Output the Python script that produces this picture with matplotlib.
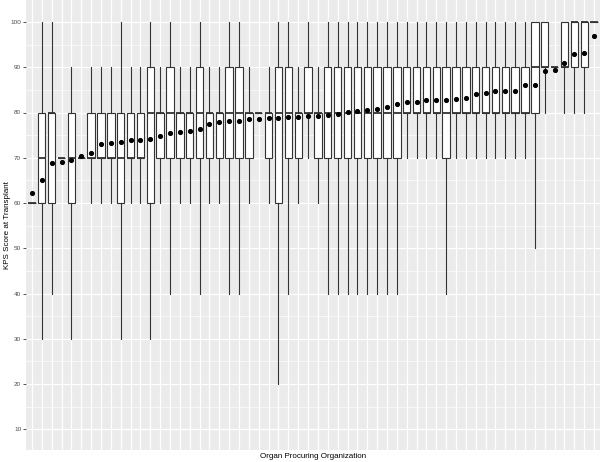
import matplotlib
matplotlib.use('Agg')
import matplotlib.pyplot as plt
import numpy as np
from matplotlib.ticker import FixedLocator

# one entry per OPO, ordered by mean KPS
whis_lo = [60, 30, 40, 70, 30, 70, 60, 60, 60, 30,
           60, 60, 30, 60, 40, 60, 60, 40, 60, 60,
           40, 40, 60, 80, 60, 20, 40, 60, 70, 60,
           40, 40, 40, 40, 40, 40, 40, 40, 70, 70,
           70, 70, 40, 70, 70, 70, 70, 70, 70, 70,
           70, 50, 80, 90, 80, 80, 80, 100]
q1 = [60, 60, 60, 70, 60, 70, 70, 70, 70, 60,
      70, 70, 60, 70, 70, 70, 70, 70, 70, 70,
      70, 70, 70, 80, 70, 60, 70, 70, 80, 70,
      70, 70, 70, 70, 70, 70, 70, 70, 80, 80,
      80, 80, 70, 80, 80, 80, 80, 80, 80, 80,
      80, 80, 90, 90, 90, 90, 90, 100]
med = [60, 70, 80, 70, 70, 70, 70, 70, 70, 70,
       70, 70, 80, 80, 80, 80, 80, 80, 80, 80,
       80, 80, 80, 80, 80, 80, 80, 80, 80, 80,
       80, 80, 80, 80, 80, 80, 80, 80, 80, 80,
       80, 80, 80, 80, 80, 80, 80, 80, 80, 80,
       80, 90, 90, 90, 90, 100, 100, 100]
q3 = [60, 80, 80, 70, 80, 70, 80, 80, 80, 80,
      80, 80, 90, 80, 90, 80, 80, 90, 80, 80,
      90, 90, 80, 80, 80, 90, 90, 80, 90, 80,
      90, 90, 90, 90, 90, 90, 90, 90, 90, 90,
      90, 90, 90, 90, 90, 90, 90, 90, 90, 90,
      90, 100, 100, 90, 100, 100, 100, 100]
whis_hi = [60, 100, 100, 70, 90, 70, 90, 90, 90, 100,
           90, 90, 100, 90, 100, 90, 90, 100, 90, 90,
           100, 100, 90, 80, 90, 100, 100, 90, 100, 90,
           100, 100, 100, 100, 100, 100, 100, 100, 100, 100,
           100, 100, 100, 100, 100, 100, 100, 100, 100, 100,
           100, 100, 100, 90, 100, 100, 100, 100]
means = [62.3, 65.1, 68.9, 69.1, 69.4, 70.4, 71.1, 73.0, 73.2, 73.5,
         74.0, 74.0, 74.2, 74.8, 75.4, 75.7, 76.0, 76.4, 77.4, 77.8,
         78.2, 78.2, 78.5, 78.6, 78.8, 78.8, 78.9, 79.0, 79.2, 79.2,
         79.4, 79.6, 80.1, 80.3, 80.5, 80.7, 81.3, 81.9, 82.4, 82.4,
         82.7, 82.7, 82.8, 83.0, 83.1, 84.1, 84.3, 84.7, 84.8, 84.8,
         86.0, 86.1, 89.1, 89.3, 90.9, 93.0, 93.1, 97.0]

yticks = list(range(10, 101, 10))

plt.rcParams['font.family'] = ['Liberation Sans', 'DejaVu Sans']

fig = plt.figure(figsize=(6, 4.62), dpi=100)
ax = fig.add_axes([26 / 600, 12 / 462, 574 / 600, 450 / 462])
ax.set_facecolor('#EBEBEB')

pos = np.arange(1, len(means) + 1)
stats = [dict(whislo=a, q1=b, med=c, q3=d, whishi=e, fliers=[])
         for a, b, c, d, e in zip(whis_lo, q1, med, q3, whis_hi)]

ax.bxp(stats, positions=pos, widths=0.75,
       patch_artist=True,
       showcaps=False,
       showfliers=False,
       boxprops=dict(facecolor='white', edgecolor='#333333', linewidth=0.8),
       whiskerprops=dict(color='#333333', linewidth=0.8),
       medianprops=dict(color='#333333', linewidth=1.3))
ax.plot(pos, means, 'o', color='black', markersize=2.7, zorder=5)

ax.set_xlim(0.4, len(means) + 0.6)
ax.set_ylim(5.42, 104.86)
ax.set_xticks(pos)
ax.set_xticklabels([])
ax.set_yticks(yticks)
ax.yaxis.set_minor_locator(FixedLocator(range(15, 100, 10)))

ax.set_axisbelow(True)
ax.grid(which='major', color='white', linewidth=0.9)
ax.grid(which='minor', axis='y', color='white', linewidth=0.45)

for s in ax.spines.values():
    s.set_visible(False)
ax.tick_params(axis='y', which='major', length=2.2, width=0.6,
               color='#333333', labelsize=4.6, labelcolor='#4D4D4D', pad=1.2)
ax.tick_params(axis='x', which='major', length=0)
ax.tick_params(axis='y', which='minor', length=0)

fig.text(313 / 600, 1 - 457 / 462, 'Organ Procuring Organization',
         ha='center', va='center', fontsize=5.8, color='black')
fig.text(8 / 600, 1 - 225 / 462, 'KPS Score at Transplant',
         ha='center', va='center', rotation=90, fontsize=5.8, color='black')

plt.savefig('out.png', dpi=100)
